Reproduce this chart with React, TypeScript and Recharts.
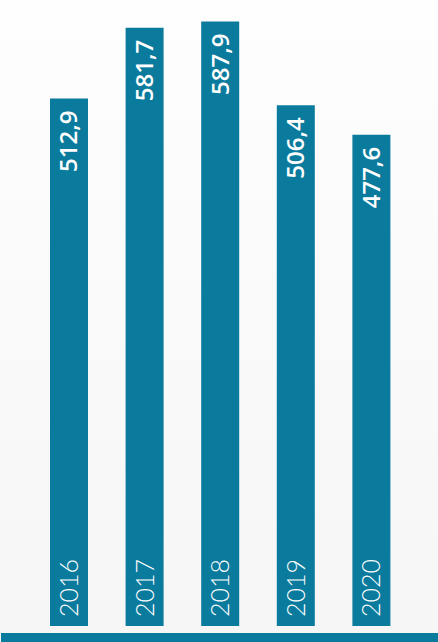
import { BarChart, Bar, XAxis, YAxis, LabelList } from "recharts";

const years = ["2016", "2017", "2018", "2019", "2020"];
const values = [512.9, 581.7, 587.9, 506.4, 477.6];

const data = years.map((year, i) => ({ year, value: values[i] }));

const TEAL = "#0a7a9d";

function fmtValue(v: number): string {
  return v.toFixed(1).replace(".", ",");
}

function ValueLabel(props: any) {
  const { x, y, width, value } = props;
  const ax = x + width / 2 + 8.5;
  const ay = y + 12;
  return (
    <text
      x={ax}
      y={ay}
      transform={`rotate(-90, ${ax}, ${ay})`}
      textAnchor="end"
      fill="#ffffff"
      fontFamily="'Open Sans', sans-serif"
      fontWeight={600}
      fontSize={24}
    >
      {fmtValue(value)}
    </text>
  );
}

function YearLabel(props: any) {
  const { x, y, width, height, value } = props;
  const ax = x + width / 2 + 9;
  const ay = y + height - 9;
  return (
    <text
      x={ax}
      y={ay}
      transform={`rotate(-90, ${ax}, ${ay})`}
      textAnchor="start"
      fill="#ffffff"
      fontFamily="Lato, sans-serif"
      fontWeight={300}
      fontSize={25}
    >
      {value}
    </text>
  );
}

export default function App() {
  return (
    <div
      style={{
        position: "fixed",
        left: 0,
        top: 0,
        width: 438,
        height: 642,
        background: "linear-gradient(to bottom, #fefefe 0%, #f6f6f6 100%)",
        overflow: "hidden",
      }}
    >
      <BarChart
        width={438}
        height={642}
        data={data}
        margin={{ top: 9, right: 29, left: 31, bottom: 16 }}
        barSize={38}
      >
        <XAxis dataKey="year" hide />
        <YAxis domain={[0, 600]} hide />
        <Bar dataKey="value" fill={TEAL} isAnimationActive={false}>
          <LabelList dataKey="value" content={ValueLabel} />
          <LabelList dataKey="year" content={YearLabel} />
        </Bar>
      </BarChart>
      <div
        style={{
          position: "absolute",
          left: 1,
          top: 633,
          width: 437,
          height: 9,
          background: TEAL,
        }}
      />
    </div>
  );
}
